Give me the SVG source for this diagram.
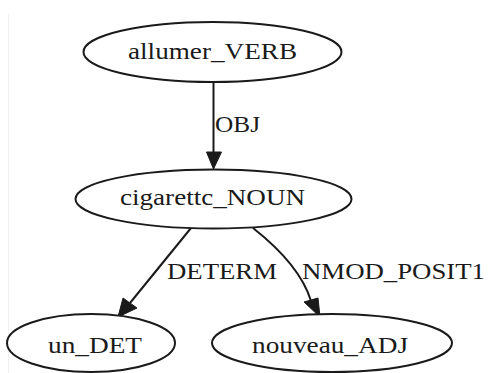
<svg xmlns="http://www.w3.org/2000/svg" width="489" height="373" viewBox="0 0 489 373">
<style>
.n{fill:#fff;stroke:#1a1a1a;stroke-width:2}
.e{fill:none;stroke:#1a1a1a;stroke-width:2}
.h{fill:#1a1a1a;stroke:#1a1a1a;stroke-width:1}
text{font-family:"Liberation Serif","Times New Roman",serif;font-size:24px;fill:#1a1a1a}
</style>
<rect width="489" height="373" fill="#fff"/>
<line x1="8.5" y1="14" x2="8.5" y2="373" stroke="#f0f0f0" stroke-width="1"/>
<g id="connectors">
<g id="e-obj">
<line class="e" x1="213.5" y1="82" x2="213.5" y2="153"/>
<polygon class="h" points="206.5,152 221.5,152 213.5,169"/>
<text x="215" y="132" textLength="45" lengthAdjust="spacingAndGlyphs">OBJ</text>
</g>
<g id="e-determ">
<line class="e" x1="191" y1="228" x2="130" y2="303"/>
<polygon class="h" points="123,298 137,308 118,317"/>
<text x="167" y="279" textLength="110" lengthAdjust="spacingAndGlyphs">DETERM</text>
</g>
<g id="e-nmod">
<path class="e" d="M253,228 Q300,265 311,301"/>
<polygon class="h" points="304,302 318,298 320,317"/>
<text x="302" y="279" textLength="183" lengthAdjust="spacingAndGlyphs">NMOD_POSIT1</text>
</g>
</g>
<g id="allumer_VERB">
<ellipse class="n" cx="212.5" cy="52" rx="129" ry="30"/>
<text x="128" y="59" textLength="169" lengthAdjust="spacingAndGlyphs">allumer_VERB</text>
</g>
<g id="cigarette_NOUN">
<ellipse class="n" cx="213.5" cy="199" rx="138" ry="29.5"/>
<text x="120" y="205" textLength="185" lengthAdjust="spacingAndGlyphs">cigarettc_NOUN</text>
</g>
<g id="un_DET">
<ellipse class="n" cx="91" cy="343" rx="84" ry="29"/>
<text x="48" y="353" textLength="94" lengthAdjust="spacingAndGlyphs">un_DET</text>
</g>
<g id="nouveau_ADJ">
<ellipse class="n" cx="332" cy="343" rx="120" ry="29"/>
<text x="252" y="353" textLength="156" lengthAdjust="spacingAndGlyphs">nouveau_ADJ</text>
</g>
</svg>
